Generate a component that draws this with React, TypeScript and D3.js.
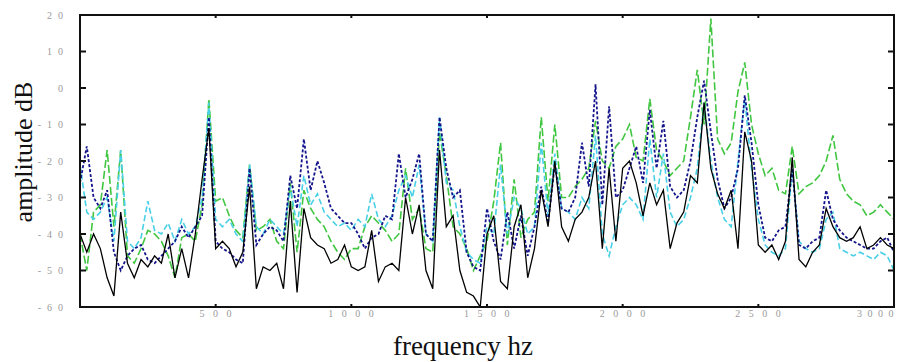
import React from 'react';
import * as d3 from 'd3';

// frequency spacing of samples (Hz)
const FREQ_STEP = 25;

const blackSeries = [
  -40, -45, -40, -44, -52, -57, -34, -48, -52, -47,
  -49, -46, -48, -40, -52, -44, -52, -40, -25, -11,
  -44, -42, -44, -49, -45, -27, -55, -49, -50, -48,
  -55, -31, -56, -33, -41, -43, -44, -48, -47, -43,
  -49, -50, -49, -39, -53, -49, -48, -50, -30, -40,
  -32, -50, -55, -17, -38, -35, -50, -56, -57, -60,
  -40, -35, -53, -55, -38, -32, -52, -44, -28, -38,
  -20, -38, -42, -36, -34, -30, -20, -44, -22, -42,
  -22, -20, -26, -35, -26, -32, -28, -44, -37, -34,
  -24, -26, -4, -22, -29, -33, -28, -44, -12, -20,
  -43, -45, -43, -47, -42, -19, -47, -49, -45, -43,
  -33, -38, -41, -42, -41, -38, -44, -43, -41, -43,
  -44,
];

const navySeries = [
  -26, -16, -30, -33, -28, -45, -50, -46, -44, -43,
  -47, -48, -46, -44, -42, -38, -41, -38, -35, -8,
  -42, -44, -45, -47, -48, -22, -43, -40, -38, -39,
  -42, -24, -33, -14, -28, -20, -26, -33, -35, -37,
  -37, -40, -44, -41, -40, -35, -36, -18, -30, -25,
  -18, -40, -42, -8, -22, -30, -28, -45, -49, -50,
  -33, -42, -47, -34, -44, -35, -46, -38, -27, -37,
  -21, -33, -34, -30, -15, -27, 1, -32, -5, -30,
  -28, -22, -16, -26, -6, -22, -9, -27, -30, -28,
  -20, -8, 2, -12, -25, -33, -30, -22, -2, -15,
  -32, -41, -42, -39, -38, -22, -43, -44, -42, -41,
  -28, -36, -39, -41, -42, -43, -44, -44, -42, -41,
  -45,
];

const greenSeries = [
  -40, -50, -34, -32, -17, -38, -17, -46, -48, -44,
  -39, -40, -42, -46, -52, -41, -40, -42, -32, -3,
  -31, -30, -35, -39, -41, -21, -39, -38, -36, -42,
  -44, -26, -45, -28, -33, -36, -38, -42, -45, -47,
  -44, -44, -38, -35, -37, -39, -42, -40, -22, -36,
  -33, -44, -45, -12, -24, -38, -40, -44, -50, -46,
  -42, -31, -15, -43, -25, -41, -36, -34, -8, -31,
  -10, -30, -30, -27, -25, -22, -9, -20, -22, -16,
  -14, -10, -19, -20, -3, -17, -20, -24, -22, -20,
  -8, 5, -10, 19, -14, -18, -15, -1, 7, -10,
  -18, -24, -22, -28, -29, -16, -29, -27, -26, -24,
  -20, -13, -25, -29, -31, -32, -35, -34, -32, -34,
  -36,
];

const cyanSeries = [
  -21, -34, -36, -34, -30, -42, -17, -42, -44, -41,
  -31, -39, -40, -37, -42, -36, -40, -38, -30, -4,
  -36, -38, -36, -40, -42, -21, -38, -40, -36, -38,
  -40, -27, -38, -24, -32, -29, -34, -36, -38, -37,
  -39, -36, -38, -29, -36, -38, -35, -28, -24, -30,
  -21, -40, -42, -8, -26, -28, -38, -45, -47, -48,
  -38, -40, -21, -40, -30, -33, -40, -38, -15, -35,
  -18, -33, -34, -36, -30, -33, -13, -40, -46, -38,
  -32, -30, -32, -36, -14, -30, -18, -34, -38, -36,
  -30, -22, -4, -20, -30, -36, -38, -20, -3, -22,
  -36, -43, -45, -46, -44, -22, -42, -44, -45, -44,
  -36, -34, -44, -45, -46, -45, -46, -47, -45, -46,
  -50,
];

const yTicks = [20, 10, 0, -10, -20, -30, -40, -50, -60];
const xTicks = [500, 1000, 1500, 2000, 2500, 3000];

const W = 906;
const H = 362;
const PL = 80, PR = 894, PT = 15, PB = 307;

const seriesDefs = [
  { data: greenSeries, color: '#40c640', dash: '8,3', width: 1.6 },
  { data: cyanSeries, color: '#48d0e6', dash: '6,3', width: 1.6 },
  { data: navySeries, color: '#14148c', dash: '3,2', width: 1.8 },
  { data: blackSeries, color: '#000000', dash: null as string | null, width: 1.3 },
];

export default function App() {
  const x = d3.scaleLinear().domain([0, 3000]).range([PL, PR]);
  const y = d3.scaleLinear().domain([-60, 20]).range([PB, PT]);
  const line = d3
    .line<number>()
    .x((_, i) => x(i * FREQ_STEP))
    .y((d) => y(d))
    .curve(d3.curveLinear);

  const tickColor = '#9a9a9a';
  const font = '"Liberation Serif", "DejaVu Serif", serif';

  return (
    <svg
      width={W}
      height={H}
      style={{ position: 'absolute', left: 0, top: 0, background: '#fff' }}
      fontFamily={font}
    >
      <rect x={0} y={0} width={W} height={H} fill="#fff" />
      <defs>
        <clipPath id="plotClip">
          <rect x={PL} y={PT} width={PR - PL} height={PB - PT} />
        </clipPath>
      </defs>
      <g clipPath="url(#plotClip)">
        {seriesDefs.map((s, k) => (
          <path
            key={k}
            d={line(s.data) || ''}
            fill="none"
            stroke={s.color}
            strokeWidth={s.width}
            strokeDasharray={s.dash || undefined}
            strokeLinejoin="miter"
          />
        ))}
      </g>
      {/* frame */}
      <rect x={PL} y={PT} width={PR - PL} height={PB - PT} fill="none" stroke="#111" strokeWidth={2} />
      {/* y ticks */}
      {yTicks.map((t) => (
        <g key={'y' + t}>
          <line x1={PL} x2={PL + 6} y1={y(t)} y2={y(t)} stroke="#111" strokeWidth={2} />
          <line x1={PR - 6} x2={PR} y1={y(t)} y2={y(t)} stroke="#111" strokeWidth={2} />
          <text
            x={69}
            y={y(t) + 3.5}
            textAnchor="end"
            fontSize={10}
            fill={tickColor}
            style={{ letterSpacing: '6px' }}
          >
            {t < 0 ? '-' + String(-t) : String(t)}
          </text>
        </g>
      ))}
      {/* x ticks */}
      {xTicks.map((t) => {
        const last = t === 3000;
        return (
          <g key={'x' + t}>
            <line x1={x(t)} x2={x(t)} y1={PB} y2={PB - 3} stroke="#111" strokeWidth={2} />
            <line x1={x(t)} x2={x(t)} y1={PT} y2={PT + 3} stroke="#111" strokeWidth={2} />
            <text
              x={last ? 899 : x(t) + 4}
              y={317}
              textAnchor={last ? 'end' : 'middle'}
              fontSize={10}
              fill={tickColor}
              style={{ letterSpacing: last ? '5.5px' : '8.5px' }}
            >
              {String(t)}
            </text>
          </g>
        );
      })}
      <text x={463} y={355} textAnchor="middle" fontSize={27} fill="#111">
        frequency hz
      </text>
      <text
        transform={`translate(32,152) rotate(-90)`}
        textAnchor="middle"
        fontSize={26}
        fill="#111"
      >
        amplitude dB
      </text>
    </svg>
  );
}
